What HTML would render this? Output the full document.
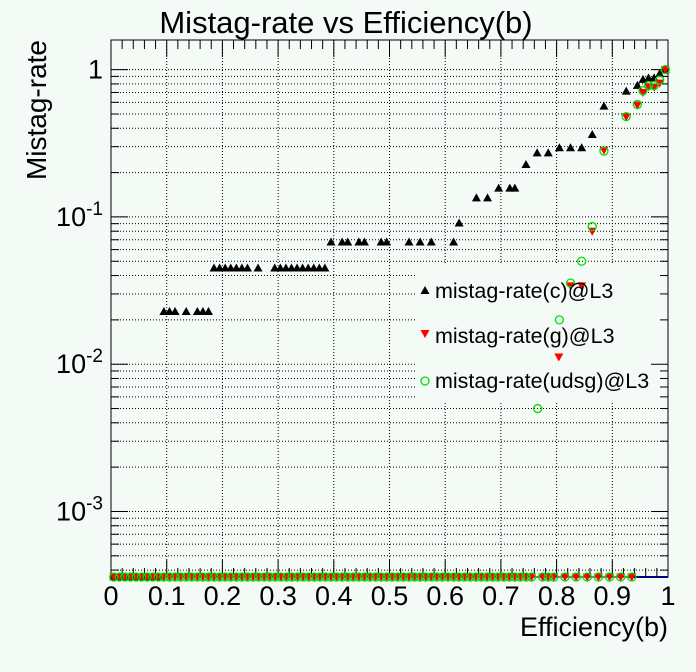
<!DOCTYPE html>
<html><head><meta charset="utf-8"><style>
html,body{margin:0;padding:0;background:#f4faf6;}
svg{display:block;font-family:"Liberation Sans",sans-serif;}
</style></head><body>
<svg id="chart" width="696" height="672">
<rect width="696" height="672" fill="#f4faf6"/>
<text x="346" y="33" font-size="31" text-anchor="middle">Mistag-rate vs Efficiency(b)</text>
<text x="0" y="0" font-size="28" text-anchor="end" transform="translate(46,40) rotate(-90)">Mistag-rate</text>
<text x="668" y="636" font-size="27" text-anchor="end">Efficiency(b)</text>
<g id="grid"></g>
<rect x="417" y="265" width="251" height="137" fill="#f4faf6"/>
<g id="axes"></g>
<g id="marks"></g>
<g id="legend">
<polygon points="425,286 429.5,294 420.5,294" fill="#000"/>
<text x="435" y="298" font-size="21.5">mistag-rate(c)@L3</text>
<polygon points="420.5,330 429.5,330 425,338" fill="#f00"/>
<text x="435" y="343" font-size="21.5">mistag-rate(g)@L3</text>
<circle cx="425" cy="381" r="4" fill="none" stroke="#0d0" stroke-width="1.3"/>
<text x="435" y="388" font-size="21.5">mistag-rate(udsg)@L3</text>
</g>
</svg>
<script>
const cEff=[0.095,0.105,0.115,0.135,0.155,0.165,0.175,0.185,0.195,0.205,0.215,0.225,0.235,0.245,0.264,0.294,0.304,0.314,0.324,0.334,0.344,0.354,0.364,0.374,0.384,0.395,0.415,0.425,0.445,0.455,0.485,0.495,0.535,0.555,0.575,0.615,0.625,0.656,0.676,0.696,0.716,0.725,0.745,0.765,0.785,0.805,0.825,0.845,0.864,0.885,0.925,0.945,0.955,0.965,0.975,0.985,0.995];
const cRate=[0.0228,0.0228,0.0228,0.0228,0.0228,0.0228,0.0228,0.045,0.045,0.045,0.045,0.045,0.045,0.045,0.045,0.045,0.045,0.045,0.045,0.045,0.045,0.045,0.045,0.045,0.045,0.0676,0.0676,0.0676,0.0676,0.0676,0.0676,0.0676,0.0676,0.0676,0.0676,0.0676,0.091,0.1346,0.1346,0.157,0.157,0.157,0.227,0.272,0.272,0.295,0.295,0.295,0.363,0.565,0.715,0.782,0.859,0.88,0.88,0.94,1.0];
const gEff=[0.804,0.825,0.845,0.864,0.885,0.925,0.945,0.955,0.965,0.975,0.985,0.995];
const gRate=[0.0112,0.034,0.034,0.08,0.284,0.479,0.574,0.70,0.766,0.76,0.81,1.0];
const uEff=[0.766,0.805,0.825,0.845,0.864,0.885,0.925,0.945,0.955,0.965,0.975,0.985,0.995];
const uRate=[0.005,0.020,0.0356,0.050,0.086,0.28,0.48,0.58,0.72,0.78,0.78,0.85,1.0];
const cZeroEff=[0.005,0.015,0.025,0.035,0.045,0.055,0.065,0.075,0.085];
const zeroEff=[0.005,0.015,0.025,0.035,0.045,0.055,0.065,0.075,0.085,0.095,0.105,0.115,0.125,0.135,0.145,0.155,0.165,0.175,0.185,0.195,0.205,0.215,0.225,0.235,0.245,0.255,0.265,0.275,0.285,0.295,0.305,0.315,0.325,0.335,0.345,0.355,0.365,0.375,0.385,0.395,0.405,0.415,0.425,0.435,0.445,0.455,0.465,0.475,0.485,0.495,0.505,0.515,0.525,0.535,0.545,0.555,0.565,0.575,0.585,0.595,0.605,0.615,0.625,0.635,0.645,0.655,0.665,0.675,0.685,0.695,0.705,0.715,0.725,0.735,0.745,0.755,0.775,0.785,0.795,0.815,0.835,0.855,0.875,0.895,0.915,0.935];
const xTickLabels=["0","0.1","0.2","0.3","0.4","0.5","0.6","0.7","0.8","0.9","1"];

const NS="http://www.w3.org/2000/svg";
const L=111,R=668,T=40,B=577;
const yMinLog=Math.log10(3.59e-4), yMaxLog=Math.log10(1.59);
function X(v){return L+(R-L)*v;}
function Y(v){if(v<=0)return B;return B-(B-T)*(Math.log10(v)-yMinLog)/(yMaxLog-yMinLog);}
function mk(tag,at,parent){const e=document.createElementNS(NS,tag);for(const k in at)e.setAttribute(k,at[k]);parent.appendChild(e);return e;}
const grid=document.getElementById('grid'),axes=document.getElementById('axes'),marks=document.getElementById('marks');
for(let i=1;i<10;i++){const x=X(i/10);
 const ln=mk('line',{x1:x,x2:x,y1:T,y2:B,stroke:'#000','stroke-width':1,'stroke-dasharray':'1,2'},grid);
 
 }
for(let d=-4;d<=0;d++){for(let m=1;m<10;m++){const v=m*Math.pow(10,d);if(v<3.59e-4||v>1.59)continue;const y=Y(v);
 const ln=mk('line',{x1:L,x2:R,y1:y,y2:y,stroke:'#000','stroke-width':1,'stroke-dasharray':'1,2'},grid);
 
 
 const len=m==1?17:8;
 const t1=mk('line',{x1:L,x2:L+len,y1:y,y2:y,stroke:'#000','stroke-width':1},axes);
 
 
 const t2=mk('line',{x1:R-len,x2:R,y1:y,y2:y,stroke:'#000','stroke-width':1},axes);
 
 
 if(m==1){const t=mk('text',{x:L-8,y:y+9,'font-size':27,'text-anchor':'end'},axes);
  
  
  if(d==0){t.textContent='1';}else{t.textContent='10';const s=mk('tspan',{dy:-11,'font-size':19},t);s.textContent=String(d);}}
}}
for(let i=0;i<=50;i++){const x=X(i/50);const len=i%5==0?17:9;
 const a=mk('line',{x1:x,x2:x,y1:B,y2:B-len,stroke:'#000','stroke-width':1},axes);
 
 
 const b=mk('line',{x1:x,x2:x,y1:T,y2:T+len,stroke:'#000','stroke-width':1},axes);
 
 }
xTickLabels.forEach((s,i)=>{const t=mk('text',{x:X(i/10),y:605,'font-size':27,'text-anchor':'middle'},axes);
 
 
 t.textContent=s;});
const fr=mk('rect',{x:L,y:T,width:R-L,height:B-T,fill:'none',stroke:'#000','stroke-width':1},axes);


const bl=mk('line',{x1:X(0.93),x2:R,y1:B,y2:B,stroke:'#000080','stroke-width':2},axes);


function up(x,y){const p=mk('polygon',{points:`${x},${y-4.5} ${x+4.5},${y+3.5} ${x-4.5},${y+3.5}`,fill:'#000'},marks);
 
 }
function down(x,y){const p=mk('polygon',{points:`${x-4.5},${y-3.5} ${x+4.5},${y-3.5} ${x},${y+4.5}`,fill:'#f00'},marks);
 
 }
function circ(x,y){const p=mk('circle',{cx:x,cy:y,r:4,fill:'none',stroke:'#0d0','stroke-width':1.3},marks);
 
 }
cZeroEff.forEach(e=>up(X(e),Y(0)));
cEff.forEach((e,i)=>up(X(e),Y(cRate[i])));
zeroEff.forEach(e=>down(X(e),Y(0)));
gEff.forEach((e,i)=>down(X(e),Y(gRate[i])));
zeroEff.forEach(e=>circ(X(e),Y(0)));
uEff.forEach((e,i)=>circ(X(e),Y(uRate[i])));
</script>
</body></html>
